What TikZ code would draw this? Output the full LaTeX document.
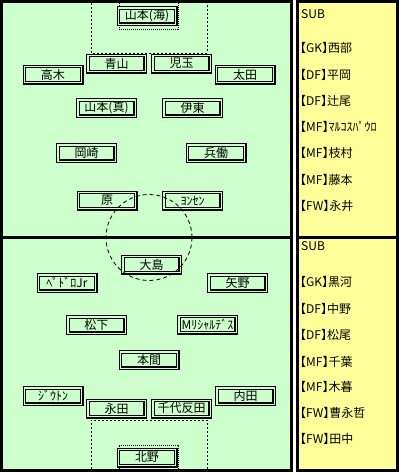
\documentclass[tikz,border=0pt]{standalone}
\usepackage{fontspec}
\setmainfont{Noto Sans CJK JP}
\usepackage{xcolor}
\definecolor{pitch}{RGB}{204,255,204}
\definecolor{bench}{RGB}{255,255,153}
\usepackage{tikz}
\usetikzlibrary{positioning}

\begin{document}
\begin{tikzpicture}[x=1pt, y=-1pt, font=\fontsize{12}{12}\selectfont,
	player/.style = {draw, fill=pitch, double=pitch, double distance=1.4pt, line width=1.1pt, minimum width=57.4pt, minimum height=16.4pt, inner sep=0pt},
	sub/.style = {anchor=west, inner sep=0pt, font=\fontsize{12}{12}\selectfont\addfontfeature{RawFeature=+halt}},
	border/.style = {line width=3pt},
	area/.style = {line width=0.9pt, dash pattern=on 2pt off 2pt},
	goal/.style = {line width=0.7pt, dash pattern=on 1pt off 1pt}]
		\useasboundingbox (0,0) rectangle (401,475);
		\draw[border, fill=pitch] (1.5,1.5) rectangle (291.5,470.5);
		\draw[border, fill=bench] (297.5,1.5) rectangle (397.5,470.5);
		\draw[border] (0,237.5) -- (293,237.5);
		\draw[border] (296,237.5) -- (399,237.5);
		\draw[area] (91,3) -- (91,53) -- (207,53) -- (207,3);
		\draw[goal] (119,3) -- (119,29) -- (178,29) -- (178,3);
		\draw[area] (91,469) -- (91,420) -- (207,420) -- (207,469);
		\draw[goal] (119,469) -- (119,445) -- (178,445) -- (178,469);
		\node[player] (gk1) at (147,16) {山本(海)};
		\node[player] (df1) at (116.5,63.5) {青山};
		\node[player] (df2) at (181.5,63.5) {児玉};
		\node[player] (df3) at (53,74.5) {高木};
		\node[player] (df4) at (245,74.5) {太田};
		\node[player] (mf1) at (106.5,108) {山本(真)};
		\node[player] (mf2) at (192.5,108) {伊東};
		\node[player] (mf3) at (86.5,153) {岡崎};
		\node[player] (mf4) at (216,153) {兵働};
		\node[player] (fw1) at (107,200.5) {原};
		\node[player] (fw2) at (192.5,200.5) {ﾖﾝｾﾝ};
		\node[player] (fw3) at (151.5,264.5) {大島};
		\node[player] (fw4) at (67,283) {ﾍﾟﾄﾞﾛJr};
		\node[player] (mf5) at (237.5,283) {矢野};
		\node[player] (mf6) at (96.5,325) {松下};
		\node[player] (mf7) at (207.5,324.5) {Mﾘｼｬﾙﾃﾞｽ};
		\node[player] (mf8) at (149,360) {本間};
		\node[player] (df5) at (53,396) {ｼﾞｳﾄﾝ};
		\node[player] (df6) at (116.5,408.5) {永田};
		\node[player] (df7) at (181.5,408.5) {千代反田};
		\node[player] (df8) at (245.5,396) {内田};
		\node[player] (gk2) at (147,457.5) {北野};
		\draw[line width=0.8pt, dash pattern=on 4pt off 3pt] (149,237.5) circle [radius=43pt];
		\node[sub] (s1) at (301,14) {SUB};
		\node[sub] (s2) at (300,48) {【GK】西部};
		\node[sub] (s3) at (300,74.5) {【DF】平岡};
		\node[sub] (s4) at (300,100.5) {【DF】辻尾};
		\node[sub] (s5) at (300,127) {【MF】ﾏﾙｺｽﾊﾟｳﾛ};
		\node[sub] (s6) at (300,153) {【MF】枝村};
		\node[sub] (s7) at (300,179.5) {【MF】藤本};
		\node[sub] (s8) at (300,205.5) {【FW】永井};
		\node[sub] (s9) at (301,246) {SUB};
		\node[sub] (s10) at (300,282) {【GK】黒河};
		\node[sub] (s11) at (300,308.5) {【DF】中野};
		\node[sub] (s12) at (300,335) {【DF】松尾};
		\node[sub] (s13) at (300,361.5) {【MF】千葉};
		\node[sub] (s14) at (300,387) {【MF】木暮};
		\node[sub] (s15) at (300,412.5) {【FW】曹永哲};
		\node[sub] (s16) at (300,438.5) {【FW】田中};
	\end{tikzpicture}
\end{document}
